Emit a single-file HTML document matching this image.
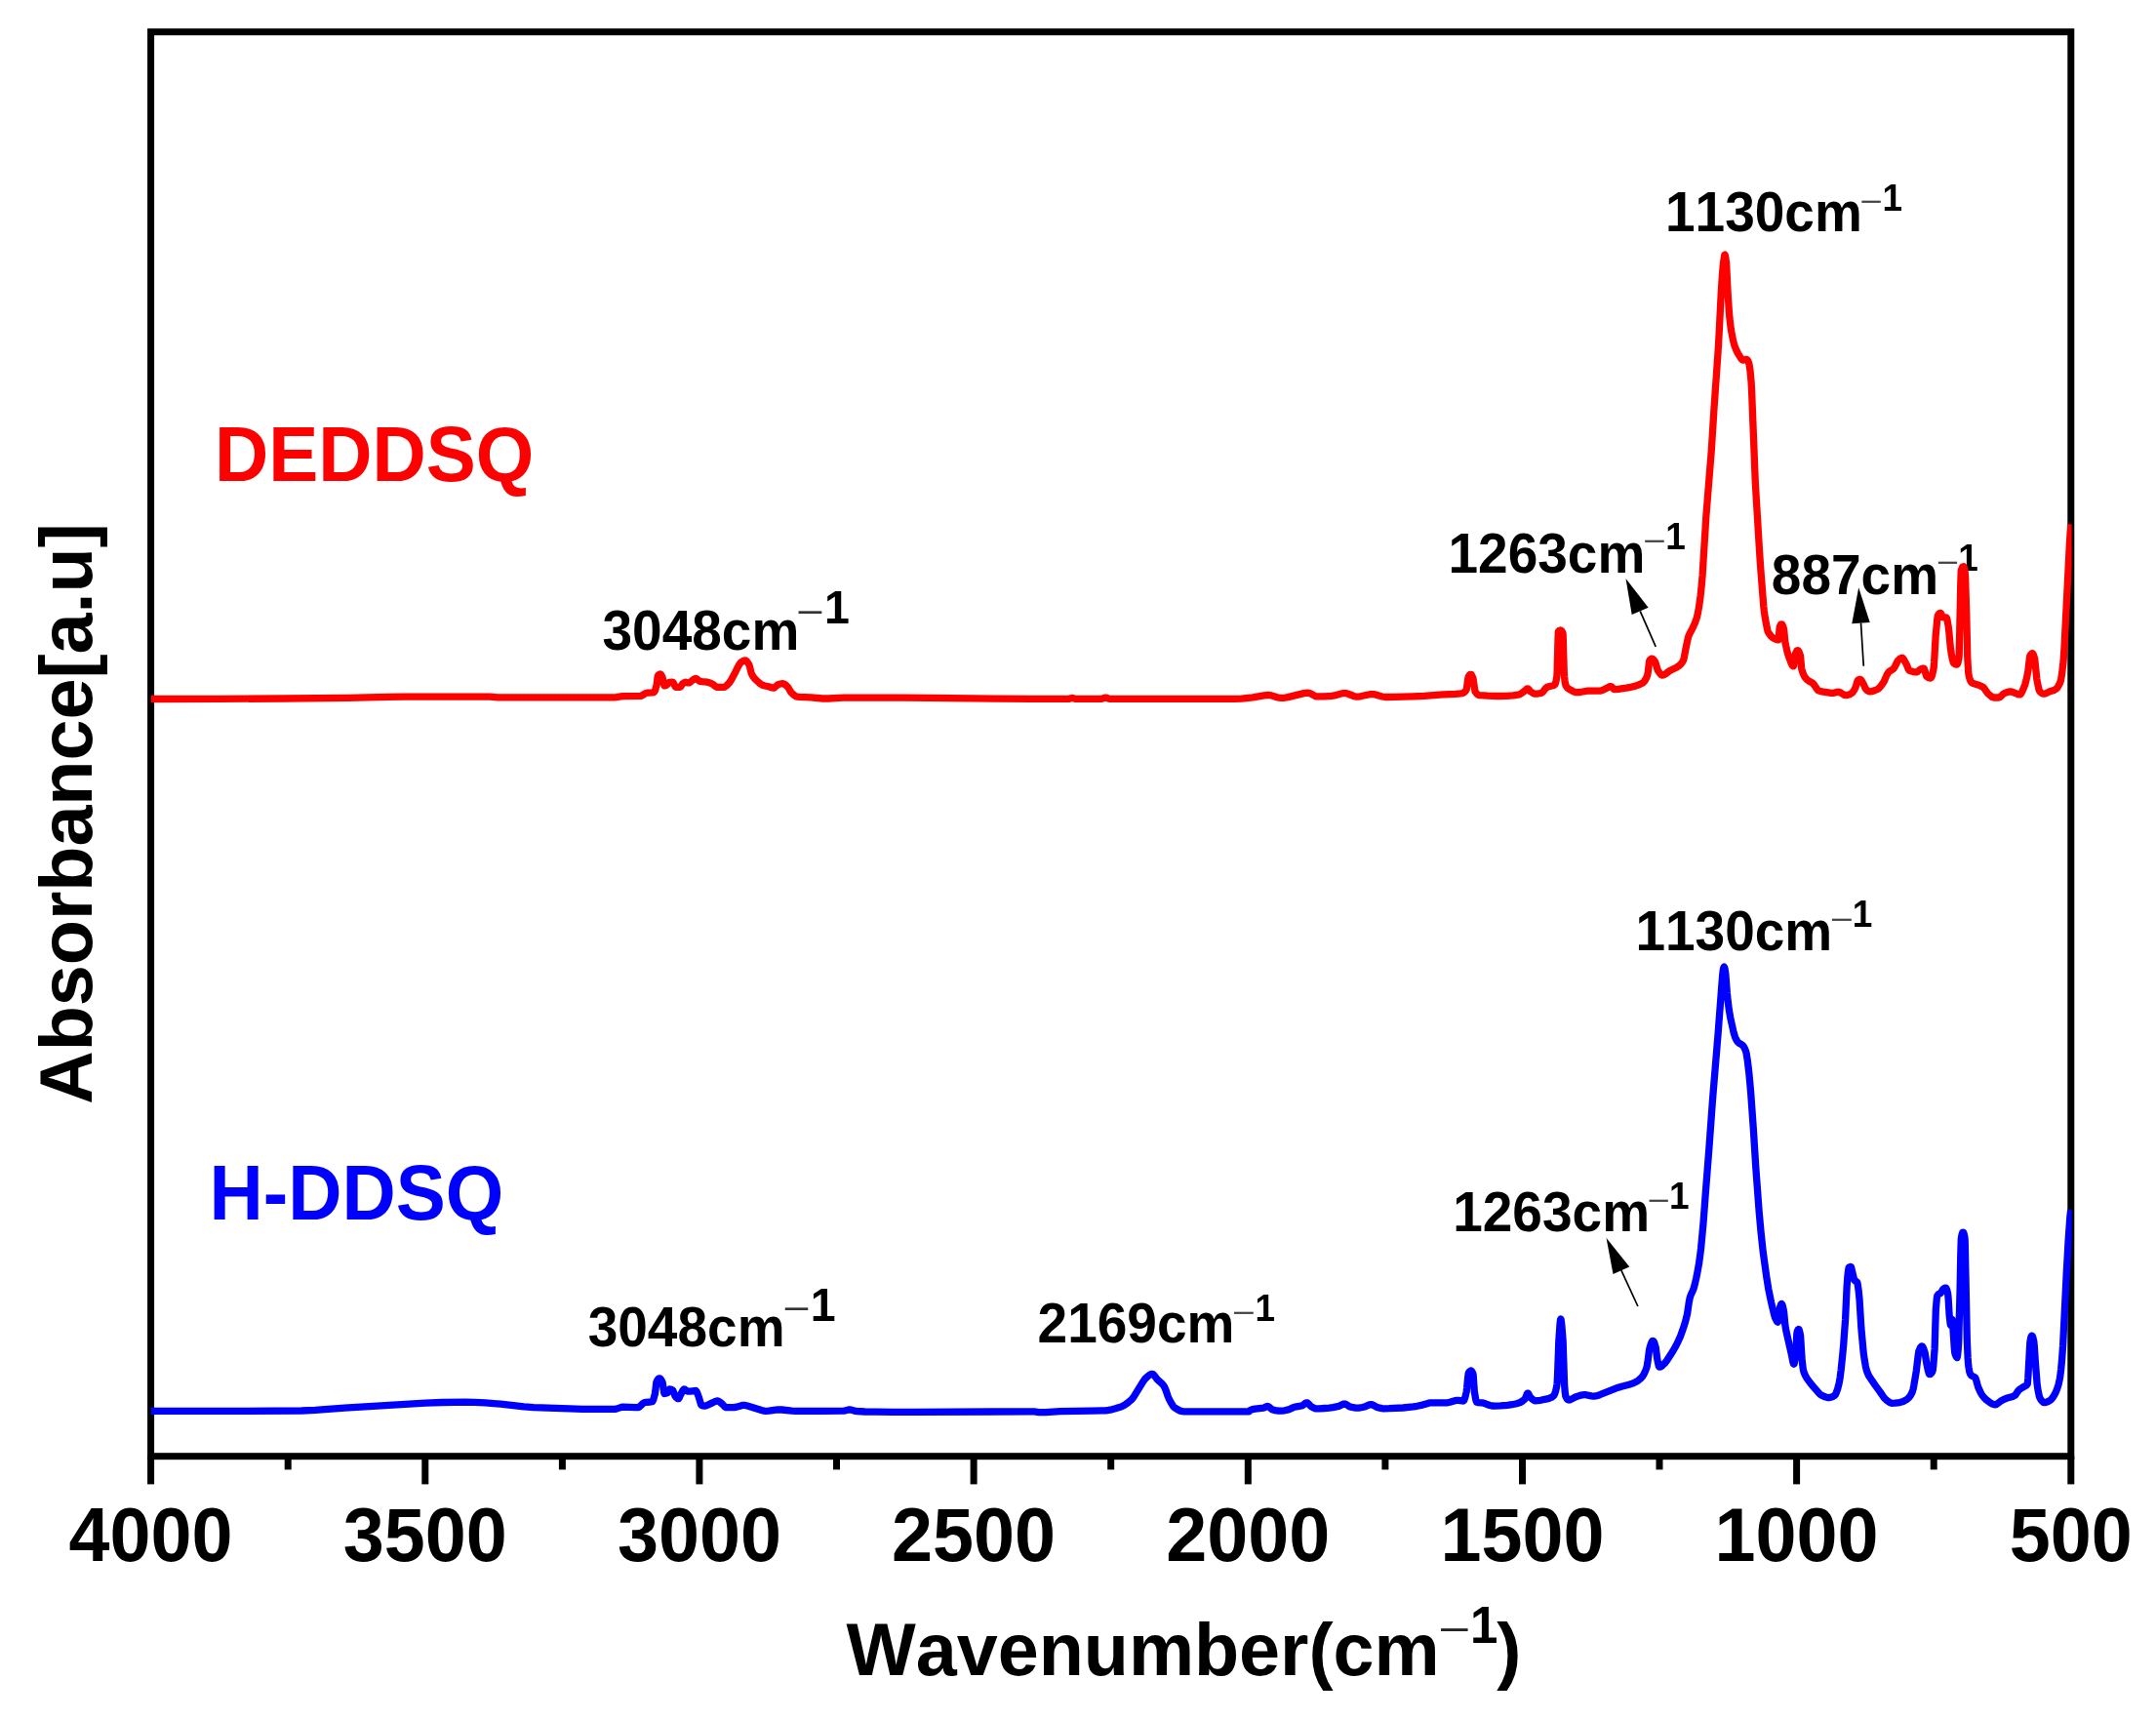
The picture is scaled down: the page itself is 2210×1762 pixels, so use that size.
<!DOCTYPE html>
<html><head><meta charset="utf-8"><title>FTIR</title>
<style>
html,body{margin:0;padding:0;background:#fff;}
body{width:2210px;height:1762px;overflow:hidden;}
svg{display:block;filter:blur(0.55px);}
text{font-family:"Liberation Sans",Arial,Helvetica,sans-serif;font-weight:700;font-kerning:none;font-variant-ligatures:none;}
</style></head><body>
<svg width="2210" height="1762" viewBox="0 0 2210 1762">
<rect width="2210" height="1762" fill="#fff"/>
<rect x="154.6" y="32.7" width="1968.2" height="1460" fill="none" stroke="#000" stroke-width="7"/>
<g stroke="#000" stroke-width="7"><line x1="154.6" y1="1492.7" x2="154.6" y2="1521.4"/><line x1="295.2" y1="1492.7" x2="295.2" y2="1506.4"/><line x1="435.8" y1="1492.7" x2="435.8" y2="1521.4"/><line x1="576.4" y1="1492.7" x2="576.4" y2="1506.4"/><line x1="716.9" y1="1492.7" x2="716.9" y2="1521.4"/><line x1="857.5" y1="1492.7" x2="857.5" y2="1506.4"/><line x1="998.1" y1="1492.7" x2="998.1" y2="1521.4"/><line x1="1138.7" y1="1492.7" x2="1138.7" y2="1506.4"/><line x1="1279.3" y1="1492.7" x2="1279.3" y2="1521.4"/><line x1="1419.9" y1="1492.7" x2="1419.9" y2="1506.4"/><line x1="1560.5" y1="1492.7" x2="1560.5" y2="1521.4"/><line x1="1701.0" y1="1492.7" x2="1701.0" y2="1506.4"/><line x1="1841.6" y1="1492.7" x2="1841.6" y2="1521.4"/><line x1="1982.2" y1="1492.7" x2="1982.2" y2="1506.4"/><line x1="2122.8" y1="1492.7" x2="2122.8" y2="1521.4"/></g>
<g font-size="75.5" fill="#000"><text transform="translate(154.6 1599.7) scale(1 1.04)" text-anchor="middle">4000</text><text transform="translate(435.8 1599.7) scale(1 1.04)" text-anchor="middle">3500</text><text transform="translate(716.9 1599.7) scale(1 1.04)" text-anchor="middle">3000</text><text transform="translate(998.1 1599.7) scale(1 1.04)" text-anchor="middle">2500</text><text transform="translate(1279.3 1599.7) scale(1 1.04)" text-anchor="middle">2000</text><text transform="translate(1560.5 1599.7) scale(1 1.04)" text-anchor="middle">1500</text><text transform="translate(1841.6 1599.7) scale(1 1.04)" text-anchor="middle">1000</text><text transform="translate(2122.8 1599.7) scale(1 1.04)" text-anchor="middle">500</text></g>
<g font-size="76" fill="#000">
<text transform="translate(867.5 1717.0) scale(1 1.01)" font-size="75.5">Wavenumber(cm</text><text transform="translate(1474.2 1684.3) scale(1.418 1)" font-size="40.0" style="font-weight:400" fill="#222">−</text><text transform="translate(1507.1 1684.2) scale(1 1.04)" font-size="51">1</text><text transform="translate(1534.3 1717.0) scale(1 1.01)" font-size="75.5">)</text>
<text transform="translate(94.0 1131.8) rotate(-90) scale(1 1.01)" font-size="75.5">Absorbance[a.u]</text>
</g>
<text transform="translate(220.0 492.6) scale(1 1.04)" font-size="76.5" fill="#ff0000">DEDDSQ</text>
<text transform="translate(214.5 1249.7) scale(1 1.04)" font-size="76.5" fill="#0000ff">H-DDSQ</text>
<g font-size="55" fill="#000">
<text transform="translate(617.5 666.2) scale(1 1.03)">3048cm</text><text transform="translate(816.0 640.1) scale(1.321 1)" font-size="37.1" style="font-weight:400" fill="#333">−</text><text transform="translate(844.9 639.3) scale(1 1.04)" font-size="46.5">1</text>
<text transform="translate(1484.5 586.8) scale(1 1.03)">1263cm</text><text transform="translate(1683.9 565.1) scale(1.286 1)" font-size="31.4" style="font-weight:400" fill="#444">−</text><text transform="translate(1707.3 562.7) scale(1 1.04)" font-size="37">1</text>
<text transform="translate(1707.0 237.3) scale(1 1.03)">1130cm</text><text transform="translate(1906.3 216.5) scale(1.273 1)" font-size="31.4" style="font-weight:400" fill="#444">−</text><text transform="translate(1929.6 215.5) scale(1 1.04)" font-size="37">1</text>
<text transform="translate(1815.8 608.5) scale(1 1.03)">887cm</text><text transform="translate(1984.8 587.2) scale(1.260 1)" font-size="31.4" style="font-weight:400" fill="#444">−</text><text transform="translate(2007.3 585.0) scale(1 1.04)" font-size="37">1</text>
<text transform="translate(602.7 1380.1) scale(1 1.03)">3048cm</text><text transform="translate(802.2 1354.4) scale(1.305 1)" font-size="37.1" style="font-weight:400" fill="#333">−</text><text transform="translate(830.8 1353.6) scale(1 1.04)" font-size="46.5">1</text>
<text transform="translate(1063.6 1376.3) scale(1 1.03)">2169cm</text><text transform="translate(1262.8 1356.2) scale(1.299 1)" font-size="31.4" style="font-weight:400" fill="#444">−</text><text transform="translate(1286.5 1354.0) scale(1 1.04)" font-size="37">1</text>
<text transform="translate(1489.2 1262.2) scale(1 1.03)">1263cm</text><text transform="translate(1688.5 1241.2) scale(1.260 1)" font-size="31.4" style="font-weight:400" fill="#444">−</text><text transform="translate(1710.9 1238.9) scale(1 1.04)" font-size="37">1</text>
<text transform="translate(1676.4 973.9) scale(1 1.03)">1130cm</text><text transform="translate(1875.8 952.5) scale(1.299 1)" font-size="31.4" style="font-weight:400" fill="#444">−</text><text transform="translate(1898.8 950.2) scale(1 1.04)" font-size="37">1</text>
</g>
<clipPath id="plotclip"><rect x="154.4" y="36" width="1969.2" height="1454"/></clipPath>
<g fill="none" stroke-linejoin="round" stroke-linecap="butt" stroke-width="7.3" clip-path="url(#plotclip)">
<path stroke="#ff0000" d="M154.6 716.5 L224.3 716.4 L291.9 716.0 L356.4 715.3 L397.6 714.4 L415.1 714.2 L502.1 714.2 L510.1 714.8 L629.9 714.9 L631.9 714.7 L636.4 713.9 L638.4 713.7 L656.6 713.4 L657.4 713.2 L658.1 712.9 L660.9 711.1 L662.1 710.5 L663.9 710.2 L669.1 709.8 L670.1 709.6 L670.6 709.2 L671.1 708.4 L671.9 706.6 L673.1 702.3 L674.1 694.0 L674.4 692.8 L674.6 692.3 L675.4 691.6 L676.1 691.1 L676.6 691.0 L677.1 691.2 L677.6 691.7 L678.4 692.9 L679.1 694.5 L680.6 701.8 L680.9 702.6 L681.1 702.9 L681.6 702.9 L682.4 702.6 L684.1 701.5 L685.6 699.7 L686.1 699.3 L689.4 699.2 L689.6 699.3 L690.1 699.8 L692.1 703.6 L692.9 704.4 L696.9 704.4 L697.6 703.9 L699.6 700.9 L701.4 699.7 L702.1 699.3 L702.9 699.2 L705.4 699.9 L706.4 699.9 L707.4 699.3 L709.9 697.2 L712.1 695.8 L713.1 695.5 L713.6 695.6 L714.4 696.0 L716.4 697.8 L717.4 698.4 L719.1 698.7 L725.1 699.2 L726.6 699.6 L728.4 700.2 L730.4 701.2 L733.4 703.5 L734.9 704.3 L735.6 704.4 L741.4 704.4 L742.4 704.3 L743.6 703.6 L744.9 702.6 L747.6 699.8 L748.6 698.4 L749.9 696.3 L753.9 688.7 L756.9 682.6 L758.4 680.2 L759.4 679.1 L761.4 677.7 L762.6 677.1 L763.9 676.9 L764.6 677.1 L765.6 678.0 L767.6 680.8 L768.4 683.0 L770.1 690.0 L770.9 691.7 L772.1 693.7 L773.9 695.9 L777.1 699.0 L779.4 700.9 L781.1 702.0 L783.1 702.7 L787.9 703.8 L791.4 705.0 L792.9 705.2 L793.4 705.1 L794.1 704.7 L796.9 702.1 L797.9 701.5 L800.9 700.8 L802.4 700.7 L803.1 700.8 L803.9 701.1 L804.9 701.8 L807.4 704.1 L808.4 705.5 L810.4 709.0 L811.4 710.3 L814.1 712.6 L815.4 713.4 L816.4 713.9 L817.4 714.1 L819.6 714.3 L831.1 714.9 L843.4 716.0 L849.1 716.0 L860.1 715.3 L864.4 715.2 L924.1 715.2 L952.1 715.3 L1022.9 716.2 L1055.6 716.4 L1095.1 716.4 L1096.1 716.3 L1098.1 715.6 L1099.1 715.5 L1100.1 715.7 L1102.1 716.3 L1102.8 716.4 L1128.1 716.4 L1129.1 716.3 L1131.8 715.3 L1133.1 715.1 L1134.1 715.2 L1136.6 716.2 L1137.8 716.4 L1265.3 716.4 L1272.6 716.1 L1284.3 714.8 L1295.6 712.9 L1300.1 712.5 L1301.8 712.6 L1303.6 713.0 L1309.1 714.7 L1311.1 715.2 L1312.8 715.4 L1315.1 715.4 L1317.3 715.1 L1320.1 714.6 L1336.6 710.6 L1338.6 710.3 L1340.3 710.2 L1341.3 710.3 L1342.6 710.6 L1347.8 713.3 L1349.1 713.8 L1350.1 713.9 L1357.3 713.8 L1364.8 713.4 L1367.8 712.9 L1374.8 711.0 L1376.8 710.7 L1378.6 710.6 L1379.8 710.7 L1381.3 711.0 L1387.8 713.5 L1389.3 713.9 L1390.8 714.1 L1394.3 713.8 L1402.8 712.0 L1404.8 711.7 L1406.6 711.6 L1408.1 711.6 L1409.8 711.9 L1416.8 714.0 L1419.8 714.5 L1429.3 714.4 L1447.8 713.8 L1459.8 713.3 L1479.3 711.9 L1492.1 711.4 L1497.1 710.9 L1499.3 710.5 L1500.3 710.0 L1501.3 709.3 L1502.3 708.2 L1503.1 707.1 L1503.6 704.5 L1504.6 696.7 L1505.1 694.0 L1505.6 693.0 L1506.3 692.0 L1507.1 691.4 L1507.6 691.3 L1508.1 691.5 L1508.8 692.7 L1509.8 695.0 L1510.1 695.9 L1511.6 706.5 L1512.1 708.8 L1513.6 710.9 L1515.1 712.2 L1515.8 712.5 L1516.6 712.7 L1524.8 713.2 L1535.6 713.5 L1544.3 713.4 L1551.1 712.8 L1557.3 711.8 L1558.3 711.4 L1559.6 710.6 L1563.1 708.0 L1564.8 706.3 L1565.3 706.0 L1565.8 705.8 L1566.3 706.0 L1566.8 706.4 L1568.8 708.8 L1571.1 710.3 L1572.6 711.1 L1573.6 711.2 L1575.3 711.1 L1579.6 710.5 L1580.3 710.2 L1581.3 709.4 L1584.3 705.6 L1585.6 704.5 L1587.3 703.8 L1591.8 702.8 L1593.1 702.3 L1593.8 701.7 L1594.3 700.7 L1594.8 699.1 L1595.8 693.7 L1596.1 689.5 L1597.1 652.0 L1597.3 647.7 L1597.6 647.2 L1598.3 646.5 L1598.8 646.2 L1599.6 646.0 L1600.3 646.2 L1601.1 647.1 L1601.8 648.6 L1602.1 649.7 L1602.3 654.7 L1603.3 690.3 L1603.6 694.1 L1604.1 698.3 L1604.6 701.2 L1605.1 702.8 L1606.1 704.4 L1607.3 705.6 L1610.6 707.6 L1613.1 708.9 L1615.1 709.5 L1617.1 709.7 L1619.6 709.5 L1625.1 708.5 L1627.6 708.2 L1639.6 708.1 L1640.6 708.1 L1642.6 707.4 L1649.6 703.9 L1650.8 703.6 L1651.3 703.6 L1651.8 703.8 L1654.3 706.4 L1654.8 706.6 L1655.3 706.6 L1658.8 706.3 L1667.1 705.2 L1671.8 704.3 L1676.6 703.1 L1680.3 701.8 L1683.3 700.3 L1684.6 699.4 L1685.3 698.6 L1686.8 696.4 L1687.8 694.4 L1688.8 691.7 L1689.3 688.8 L1690.3 680.2 L1690.8 677.2 L1691.3 676.3 L1692.6 675.3 L1693.3 675.1 L1694.1 675.4 L1695.1 676.3 L1696.1 677.7 L1696.6 678.5 L1697.1 679.7 L1698.6 685.0 L1699.3 687.1 L1700.6 689.0 L1701.8 690.6 L1702.8 691.6 L1703.8 692.0 L1704.8 691.9 L1706.1 691.5 L1707.3 690.7 L1711.6 687.5 L1718.3 684.3 L1721.3 682.2 L1723.1 680.6 L1724.6 678.5 L1725.8 676.1 L1726.3 674.0 L1727.6 667.0 L1729.6 657.1 L1730.8 652.2 L1732.1 649.3 L1734.8 644.3 L1737.3 638.7 L1739.1 633.8 L1740.3 628.9 L1741.6 621.7 L1743.1 610.7 L1744.1 601.2 L1745.1 589.7 L1748.8 529.6 L1754.3 461.5 L1757.1 416.9 L1761.1 360.0 L1762.3 339.3 L1764.1 303.2 L1765.3 283.4 L1766.1 273.7 L1766.6 269.1 L1767.6 262.3 L1767.8 261.4 L1768.1 261.2 L1768.3 261.6 L1768.8 263.9 L1769.6 269.8 L1771.1 300.1 L1772.1 315.3 L1772.8 324.7 L1773.6 331.7 L1774.3 337.2 L1775.1 341.7 L1776.3 347.9 L1777.8 353.8 L1779.6 358.5 L1781.6 362.5 L1784.8 367.6 L1785.6 368.5 L1786.3 369.1 L1787.3 369.0 L1789.3 368.5 L1790.3 368.4 L1790.8 368.6 L1791.6 369.6 L1792.6 372.0 L1793.1 373.9 L1794.1 380.8 L1795.1 391.6 L1795.6 401.0 L1799.3 494.9 L1803.6 565.9 L1804.8 583.6 L1807.8 621.6 L1808.3 626.2 L1809.3 633.3 L1811.1 642.7 L1811.8 646.1 L1812.3 647.6 L1813.6 649.8 L1815.1 651.8 L1816.6 653.2 L1818.1 654.2 L1820.8 655.5 L1822.8 655.9 L1823.1 655.8 L1823.3 653.9 L1824.1 643.8 L1824.3 642.6 L1825.1 640.8 L1825.6 640.0 L1826.1 639.8 L1826.6 640.0 L1827.1 640.8 L1827.6 641.9 L1828.3 644.2 L1828.6 645.4 L1829.8 657.6 L1830.6 661.8 L1831.6 666.4 L1833.3 672.4 L1835.6 678.5 L1836.8 681.3 L1837.3 682.1 L1837.8 682.6 L1838.3 682.8 L1838.6 682.4 L1840.1 671.0 L1840.8 669.0 L1841.8 667.2 L1842.6 666.7 L1842.8 666.7 L1843.3 667.0 L1843.8 667.7 L1844.3 668.7 L1845.3 671.4 L1845.6 673.1 L1846.6 684.4 L1846.8 685.9 L1847.8 689.2 L1849.1 692.3 L1850.6 694.8 L1852.6 696.9 L1854.1 698.0 L1857.3 699.7 L1858.8 700.9 L1859.8 702.2 L1862.6 706.4 L1863.8 707.7 L1865.1 708.3 L1867.6 708.9 L1877.1 710.4 L1879.1 710.4 L1883.1 709.3 L1884.8 709.2 L1886.3 709.7 L1889.8 712.0 L1891.1 712.5 L1892.3 712.7 L1894.1 712.4 L1895.6 711.9 L1897.3 711.0 L1898.6 710.2 L1899.3 709.4 L1900.6 707.3 L1902.1 704.3 L1904.1 697.8 L1904.3 697.4 L1905.1 696.9 L1905.8 696.5 L1906.6 696.3 L1907.3 696.6 L1908.1 697.5 L1910.1 701.0 L1912.3 705.9 L1912.8 706.6 L1914.3 707.9 L1915.6 708.6 L1916.8 708.9 L1919.1 708.6 L1921.6 707.8 L1925.1 706.2 L1926.1 705.3 L1927.3 704.0 L1929.3 701.4 L1931.1 698.7 L1934.3 691.4 L1935.6 689.3 L1936.8 688.1 L1940.1 686.1 L1941.3 685.0 L1942.3 683.4 L1944.6 678.6 L1945.6 676.9 L1947.8 675.0 L1948.8 674.5 L1949.6 674.3 L1950.1 674.4 L1950.6 674.8 L1951.6 676.2 L1954.1 680.7 L1956.3 686.1 L1956.8 686.9 L1957.3 687.4 L1959.3 688.1 L1961.1 688.6 L1963.1 688.9 L1964.6 688.9 L1965.6 688.4 L1967.8 686.5 L1968.6 686.0 L1970.8 685.2 L1972.1 685.1 L1972.3 685.4 L1972.8 686.6 L1974.1 691.2 L1974.8 693.3 L1975.8 694.0 L1977.1 694.7 L1978.1 695.0 L1979.1 695.0 L1979.3 694.8 L1979.8 694.0 L1980.6 691.9 L1981.3 688.9 L1982.1 685.0 L1982.6 679.0 L1984.1 652.7 L1985.8 634.1 L1986.3 631.2 L1986.6 630.5 L1987.6 629.0 L1988.1 628.6 L1988.6 628.3 L1989.1 628.3 L1989.6 628.9 L1991.1 632.0 L1991.6 632.7 L1992.1 632.9 L1995.1 632.9 L1995.6 633.8 L1996.3 637.0 L1997.3 643.0 L1997.8 647.2 L1999.3 663.8 L2000.3 670.4 L2001.3 675.8 L2002.1 678.6 L2002.6 679.6 L2003.6 680.4 L2004.6 681.0 L2005.6 681.2 L2006.1 681.1 L2006.6 680.3 L2007.1 678.8 L2008.1 673.3 L2008.3 667.0 L2009.8 597.1 L2010.1 588.8 L2010.3 584.6 L2011.3 581.9 L2011.8 581.1 L2012.6 580.7 L2012.8 580.7 L2013.1 581.1 L2013.8 583.9 L2014.3 587.3 L2014.6 591.4 L2015.8 631.1 L2016.6 666.4 L2016.8 674.1 L2017.6 687.8 L2017.8 690.6 L2018.6 694.3 L2019.6 697.4 L2020.6 699.2 L2021.3 699.8 L2022.6 700.5 L2026.6 701.7 L2029.8 702.9 L2031.3 703.6 L2032.6 704.2 L2033.8 705.4 L2036.6 709.5 L2037.8 711.0 L2041.1 713.8 L2042.3 714.5 L2043.3 714.9 L2044.3 715.0 L2048.8 715.0 L2049.3 714.9 L2050.6 714.2 L2053.3 711.5 L2054.6 710.6 L2057.8 709.4 L2060.1 708.9 L2061.3 708.9 L2062.3 709.1 L2068.6 711.6 L2069.8 711.9 L2070.6 711.9 L2071.1 711.6 L2071.6 711.0 L2072.8 708.9 L2074.8 704.3 L2075.8 701.5 L2077.3 695.6 L2078.8 688.1 L2080.3 675.3 L2080.8 672.5 L2081.3 671.5 L2082.1 670.4 L2082.8 669.8 L2083.3 669.7 L2083.8 670.1 L2084.6 671.7 L2085.6 675.0 L2085.8 676.3 L2087.8 696.1 L2089.6 705.1 L2090.3 707.7 L2090.8 708.7 L2091.8 709.7 L2093.1 710.7 L2094.3 711.1 L2095.3 711.2 L2097.1 710.7 L2101.1 708.8 L2105.3 707.5 L2107.3 706.4 L2108.6 705.3 L2109.8 703.5 L2111.1 701.1 L2112.1 698.6 L2112.6 696.5 L2113.3 692.4 L2114.8 680.7 L2115.3 674.6 L2116.1 661.9 L2121.3 558.7 L2122.1 546.3 L2122.9 537.4"/>
<path stroke="#0000ff" d="M154.6 1446.4 L253.6 1446.3 L309.1 1446.0 L323.1 1445.3 L353.3 1443.1 L436.1 1438.2 L452.8 1437.5 L477.6 1437.2 L486.8 1437.3 L497.3 1437.9 L513.1 1439.2 L537.1 1441.9 L547.1 1442.6 L583.6 1443.8 L597.3 1444.4 L630.1 1444.4 L631.8 1444.1 L636.3 1442.6 L638.3 1442.2 L651.3 1442.6 L654.1 1442.6 L654.8 1442.3 L655.6 1441.8 L659.1 1438.5 L660.6 1437.5 L662.1 1437.3 L666.6 1437.0 L668.6 1436.6 L669.1 1436.1 L669.8 1434.5 L671.3 1429.1 L671.8 1425.9 L672.8 1417.0 L673.6 1415.2 L674.3 1414.0 L675.1 1413.2 L675.8 1412.9 L676.6 1413.1 L677.3 1413.8 L678.3 1415.4 L679.1 1417.1 L680.6 1426.8 L680.8 1427.9 L681.1 1428.5 L682.8 1428.2 L684.3 1427.6 L685.8 1424.5 L686.3 1424.0 L687.3 1424.1 L688.6 1424.5 L689.3 1424.8 L689.8 1425.3 L692.1 1431.1 L693.6 1432.8 L694.8 1433.6 L695.3 1433.7 L695.6 1433.6 L696.1 1433.0 L697.8 1429.3 L699.8 1425.5 L700.6 1424.4 L701.1 1424.0 L702.1 1424.2 L704.6 1425.9 L705.6 1426.2 L707.6 1426.1 L711.8 1425.6 L713.3 1425.5 L713.8 1426.0 L714.3 1426.9 L716.3 1432.0 L718.1 1438.3 L718.6 1439.7 L719.1 1440.4 L720.3 1440.9 L722.1 1441.1 L723.8 1440.8 L725.3 1440.2 L728.6 1438.6 L733.1 1436.5 L734.3 1436.1 L735.6 1435.9 L736.6 1436.2 L737.6 1436.9 L740.6 1439.4 L742.8 1441.8 L743.6 1442.4 L744.1 1442.6 L752.8 1442.6 L754.8 1442.2 L760.1 1440.7 L761.6 1440.4 L763.1 1440.4 L766.1 1441.0 L780.6 1445.5 L783.1 1446.1 L785.1 1446.3 L788.3 1446.2 L795.1 1445.1 L797.8 1444.9 L801.6 1445.0 L811.6 1446.1 L816.1 1446.4 L843.3 1446.3 L865.1 1446.1 L866.6 1445.8 L869.8 1445.0 L871.1 1444.9 L872.6 1445.1 L876.3 1446.3 L878.6 1446.5 L886.6 1447.0 L898.3 1447.2 L915.1 1447.4 L936.6 1447.4 L1057.8 1446.8 L1060.1 1446.9 L1065.1 1447.6 L1067.1 1447.7 L1071.8 1447.6 L1086.8 1446.7 L1118.6 1446.2 L1129.6 1445.9 L1133.3 1445.8 L1136.3 1445.4 L1139.6 1444.8 L1143.3 1443.8 L1147.3 1442.6 L1150.1 1441.6 L1152.6 1440.3 L1155.1 1438.6 L1159.1 1435.3 L1160.3 1434.1 L1161.3 1432.9 L1163.1 1430.2 L1171.6 1416.3 L1173.6 1413.5 L1176.1 1411.1 L1178.1 1409.5 L1179.6 1408.7 L1181.1 1408.4 L1181.8 1408.6 L1182.8 1409.4 L1186.3 1414.0 L1191.1 1418.3 L1192.3 1419.7 L1193.3 1421.1 L1194.6 1423.8 L1197.3 1431.5 L1198.3 1434.0 L1201.1 1439.1 L1202.8 1441.7 L1204.1 1442.9 L1207.3 1444.9 L1209.8 1446.1 L1212.1 1446.7 L1213.6 1446.8 L1280.3 1446.8 L1280.6 1446.2 L1281.1 1445.8 L1282.3 1445.2 L1283.8 1444.6 L1286.6 1444.1 L1295.1 1443.2 L1296.1 1442.8 L1298.1 1441.7 L1299.1 1441.4 L1299.8 1441.5 L1300.6 1441.9 L1303.3 1444.3 L1304.6 1445.0 L1307.1 1445.6 L1309.3 1446.0 L1311.3 1446.2 L1313.3 1446.2 L1316.6 1445.8 L1320.8 1444.9 L1322.3 1444.3 L1325.8 1442.6 L1327.3 1442.1 L1333.1 1441.2 L1334.8 1440.8 L1335.8 1440.2 L1338.3 1438.2 L1339.1 1437.9 L1339.6 1437.8 L1340.1 1437.9 L1340.8 1438.4 L1343.3 1441.1 L1344.1 1441.8 L1346.8 1443.2 L1347.8 1443.6 L1348.8 1443.8 L1352.6 1443.8 L1357.6 1443.5 L1362.6 1443.1 L1366.3 1442.6 L1372.3 1441.4 L1373.6 1440.8 L1376.3 1439.4 L1377.3 1439.1 L1378.1 1439.0 L1378.8 1439.1 L1379.8 1439.5 L1382.8 1441.4 L1383.8 1441.9 L1387.1 1442.7 L1389.8 1443.1 L1392.8 1443.1 L1396.6 1442.5 L1399.6 1441.7 L1403.6 1439.9 L1405.3 1439.6 L1406.1 1439.7 L1407.1 1440.0 L1411.3 1442.4 L1414.3 1443.2 L1416.6 1443.6 L1418.3 1443.8 L1423.8 1443.7 L1438.1 1443.0 L1448.8 1441.9 L1452.6 1441.3 L1458.1 1440.1 L1463.8 1438.4 L1466.3 1437.8 L1483.8 1437.8 L1486.1 1437.3 L1491.3 1435.7 L1493.6 1435.4 L1495.1 1435.4 L1498.6 1435.9 L1500.1 1436.0 L1500.6 1435.5 L1501.3 1433.8 L1502.1 1431.2 L1503.1 1427.0 L1503.6 1423.1 L1504.6 1412.2 L1505.1 1408.2 L1505.3 1407.3 L1506.1 1406.2 L1506.8 1405.4 L1507.6 1405.0 L1508.1 1405.2 L1508.8 1405.9 L1509.8 1407.9 L1510.1 1408.8 L1511.3 1426.1 L1512.6 1433.9 L1513.1 1436.0 L1513.6 1437.1 L1513.8 1437.3 L1515.1 1437.6 L1519.1 1437.9 L1520.8 1438.2 L1522.6 1438.8 L1527.1 1440.5 L1529.3 1441.0 L1532.3 1441.1 L1538.1 1440.9 L1545.3 1440.3 L1549.8 1439.7 L1554.6 1438.7 L1556.8 1438.0 L1558.3 1437.5 L1560.8 1436.0 L1563.1 1434.0 L1563.6 1433.1 L1565.1 1429.2 L1565.6 1428.3 L1565.8 1428.1 L1566.3 1428.2 L1566.8 1428.8 L1568.3 1431.6 L1569.1 1432.7 L1571.8 1435.1 L1572.8 1435.6 L1573.6 1435.8 L1576.1 1435.6 L1579.1 1435.3 L1587.1 1433.6 L1588.8 1433.0 L1590.6 1432.2 L1592.1 1431.1 L1592.8 1430.3 L1593.8 1428.3 L1594.6 1425.9 L1595.6 1421.5 L1596.1 1418.3 L1596.6 1408.5 L1597.8 1375.1 L1599.1 1356.3 L1599.6 1352.4 L1599.8 1352.1 L1600.1 1352.6 L1600.3 1353.8 L1600.8 1357.7 L1602.1 1373.7 L1603.6 1419.3 L1604.3 1427.5 L1604.8 1430.9 L1605.1 1431.8 L1605.8 1433.1 L1606.8 1434.3 L1607.6 1434.8 L1608.3 1435.0 L1609.3 1434.8 L1610.3 1434.4 L1614.8 1432.0 L1619.6 1430.4 L1622.3 1429.8 L1624.1 1429.6 L1625.6 1429.7 L1631.1 1430.9 L1633.1 1431.1 L1635.1 1431.0 L1637.3 1430.6 L1639.8 1429.7 L1658.8 1422.2 L1662.1 1421.2 L1669.8 1419.3 L1673.3 1418.1 L1675.8 1417.0 L1678.1 1415.8 L1680.1 1414.3 L1682.1 1412.6 L1683.8 1410.6 L1685.3 1408.1 L1686.8 1404.8 L1688.1 1401.1 L1688.8 1397.2 L1690.3 1385.6 L1690.8 1382.5 L1691.6 1379.7 L1692.6 1376.7 L1693.3 1375.1 L1693.8 1374.5 L1694.1 1374.3 L1694.3 1374.3 L1694.8 1374.7 L1695.6 1376.0 L1696.3 1378.0 L1697.3 1381.5 L1698.6 1392.1 L1699.6 1397.2 L1700.3 1400.0 L1700.8 1401.0 L1701.1 1401.2 L1701.6 1401.1 L1702.3 1400.9 L1703.6 1400.0 L1706.6 1397.2 L1708.8 1394.3 L1714.6 1385.2 L1717.8 1379.6 L1720.3 1374.6 L1722.6 1369.4 L1724.8 1363.3 L1727.1 1356.4 L1728.6 1350.8 L1729.6 1346.4 L1731.3 1334.8 L1732.1 1330.7 L1733.1 1327.5 L1735.3 1322.7 L1736.1 1320.7 L1737.3 1316.3 L1738.8 1309.8 L1740.3 1302.1 L1741.6 1294.7 L1742.8 1285.8 L1743.6 1279.4 L1746.1 1252.3 L1748.1 1225.3 L1751.8 1177.9 L1755.6 1126.0 L1761.1 1059.5 L1765.6 1000.2 L1766.3 994.1 L1766.8 992.0 L1767.1 991.4 L1767.3 991.2 L1767.6 991.5 L1768.1 993.3 L1768.8 997.7 L1770.3 1017.3 L1771.3 1027.0 L1772.3 1034.9 L1773.8 1043.5 L1777.3 1059.2 L1778.6 1063.2 L1779.8 1065.8 L1780.8 1067.4 L1782.3 1069.0 L1785.1 1070.6 L1786.3 1071.5 L1787.3 1072.7 L1788.3 1074.5 L1789.3 1076.9 L1790.1 1079.5 L1791.3 1087.2 L1792.8 1099.7 L1794.6 1119.3 L1797.3 1157.0 L1799.8 1197.1 L1803.3 1243.8 L1805.1 1263.4 L1807.3 1283.8 L1810.8 1309.0 L1812.8 1321.4 L1815.6 1335.0 L1818.1 1345.5 L1819.3 1350.0 L1820.1 1351.9 L1821.1 1353.8 L1821.8 1354.8 L1822.3 1355.1 L1822.6 1354.7 L1822.8 1353.0 L1823.8 1343.4 L1824.8 1339.2 L1825.6 1337.0 L1826.1 1336.5 L1826.3 1336.5 L1826.6 1336.8 L1827.1 1338.0 L1827.8 1340.7 L1828.6 1344.7 L1829.8 1357.9 L1830.8 1363.9 L1836.6 1389.5 L1837.8 1395.8 L1838.3 1397.6 L1838.6 1398.1 L1838.8 1398.2 L1839.1 1397.9 L1839.3 1397.0 L1839.8 1394.1 L1840.3 1390.0 L1841.1 1382.6 L1841.8 1367.7 L1842.1 1365.4 L1842.6 1363.9 L1843.1 1362.9 L1843.6 1362.5 L1843.8 1362.6 L1844.1 1362.9 L1844.8 1365.2 L1845.6 1369.2 L1847.1 1393.5 L1848.1 1402.2 L1848.6 1404.7 L1849.3 1407.2 L1850.3 1409.6 L1851.8 1412.3 L1854.8 1416.5 L1858.1 1420.6 L1863.8 1427.2 L1865.3 1428.8 L1866.6 1429.8 L1867.6 1430.4 L1870.8 1431.8 L1872.6 1432.3 L1874.3 1432.6 L1875.6 1432.5 L1877.1 1432.2 L1878.6 1431.6 L1880.1 1430.7 L1880.8 1430.2 L1881.3 1429.6 L1882.3 1427.5 L1883.6 1423.8 L1885.1 1418.1 L1886.1 1412.3 L1887.1 1404.6 L1888.8 1388.3 L1889.8 1377.1 L1891.6 1352.2 L1893.1 1319.3 L1893.8 1309.2 L1894.6 1302.2 L1895.1 1299.5 L1895.3 1299.1 L1896.6 1298.5 L1897.1 1298.4 L1897.3 1298.5 L1897.8 1299.7 L1900.6 1311.8 L1900.8 1312.2 L1901.3 1312.7 L1902.8 1313.5 L1903.6 1314.2 L1903.8 1314.7 L1904.3 1316.9 L1905.1 1322.5 L1906.1 1332.4 L1907.8 1360.6 L1909.6 1380.6 L1910.3 1387.5 L1911.3 1394.5 L1912.3 1400.2 L1913.3 1404.6 L1914.8 1408.5 L1915.8 1410.5 L1917.1 1412.5 L1921.8 1419.4 L1927.1 1426.6 L1930.6 1431.8 L1932.1 1433.6 L1933.8 1435.2 L1936.8 1437.4 L1938.1 1438.0 L1939.1 1438.3 L1942.6 1438.2 L1947.3 1437.6 L1949.1 1437.1 L1950.8 1436.5 L1954.3 1434.6 L1956.3 1433.0 L1958.3 1430.4 L1959.6 1428.2 L1960.3 1426.5 L1961.1 1423.8 L1961.8 1420.2 L1964.3 1405.3 L1966.1 1390.3 L1966.8 1385.3 L1967.1 1384.4 L1968.1 1382.1 L1968.8 1380.8 L1969.6 1380.0 L1970.1 1379.9 L1970.3 1380.0 L1971.1 1380.9 L1972.1 1383.3 L1973.1 1386.4 L1974.8 1397.5 L1976.3 1404.6 L1977.3 1408.1 L1977.8 1408.7 L1978.3 1408.7 L1978.8 1408.5 L1979.8 1407.5 L1980.8 1405.9 L1981.3 1403.8 L1981.8 1399.6 L1983.1 1382.7 L1984.3 1342.8 L1985.3 1330.8 L1985.6 1329.1 L1985.8 1328.1 L1986.1 1327.7 L1987.1 1326.6 L1988.8 1325.7 L1989.6 1325.0 L1991.6 1321.6 L1992.3 1320.8 L1993.8 1320.2 L1994.6 1320.1 L1994.8 1320.2 L1995.6 1321.8 L1996.6 1325.9 L1996.8 1327.5 L1997.1 1330.7 L1998.1 1347.6 L1999.1 1356.5 L1999.3 1357.8 L1999.6 1358.3 L1999.8 1357.8 L2000.6 1353.8 L2000.8 1352.8 L2001.1 1352.6 L2001.3 1353.9 L2001.6 1356.6 L2003.3 1381.9 L2003.8 1386.8 L2004.3 1388.5 L2005.1 1390.5 L2005.6 1391.2 L2006.1 1391.5 L2006.3 1390.9 L2006.6 1389.5 L2007.1 1384.4 L2007.6 1377.5 L2007.8 1371.5 L2009.1 1321.6 L2009.8 1284.9 L2010.3 1269.5 L2010.8 1266.6 L2011.3 1264.6 L2011.8 1263.4 L2012.1 1263.1 L2012.3 1263.1 L2012.6 1263.3 L2013.1 1264.4 L2013.8 1267.8 L2014.1 1269.5 L2014.3 1274.9 L2016.3 1372.6 L2017.1 1391.5 L2017.6 1398.4 L2018.1 1402.1 L2018.8 1406.1 L2019.6 1408.4 L2020.1 1409.2 L2020.8 1409.9 L2023.8 1411.4 L2024.6 1412.1 L2025.1 1412.8 L2025.8 1415.0 L2027.1 1419.8 L2027.8 1422.1 L2030.1 1427.1 L2031.1 1429.0 L2032.1 1430.5 L2034.1 1432.9 L2036.3 1435.1 L2040.1 1437.8 L2042.3 1439.1 L2044.3 1439.7 L2045.3 1439.8 L2046.1 1439.6 L2047.3 1438.8 L2050.6 1436.3 L2054.8 1434.1 L2057.6 1432.9 L2063.1 1431.4 L2065.3 1430.3 L2066.3 1429.3 L2068.6 1425.8 L2069.6 1424.6 L2071.1 1423.5 L2074.1 1421.6 L2076.8 1420.3 L2077.8 1419.4 L2078.3 1418.4 L2078.8 1412.8 L2080.8 1376.5 L2081.1 1374.2 L2081.8 1370.9 L2082.3 1369.6 L2082.6 1369.2 L2082.8 1369.1 L2083.3 1369.6 L2083.8 1370.8 L2084.8 1374.9 L2085.3 1380.1 L2086.3 1395.4 L2088.1 1418.5 L2089.1 1425.3 L2090.3 1431.1 L2091.1 1433.1 L2092.3 1435.1 L2093.6 1436.6 L2094.8 1437.5 L2095.3 1437.6 L2096.1 1437.6 L2097.8 1437.2 L2099.8 1436.3 L2101.8 1435.1 L2103.6 1433.3 L2105.3 1430.7 L2107.3 1427.0 L2108.8 1423.2 L2110.1 1419.0 L2111.3 1413.4 L2111.8 1410.4 L2112.6 1404.1 L2113.6 1393.1 L2114.6 1379.4 L2118.1 1307.4 L2120.1 1271.8 L2121.8 1247.7 L2122.3 1243.3 L2122.9 1240.0"/>
</g>
<line x1="1697.2" y1="662.9" x2="1681.2" y2="626.4" stroke="#000" stroke-width="1.7"/><polygon points="1666.5,593.0 1689.6,622.7 1672.7,630.1" fill="#000"/>
<line x1="1678.9" y1="1339.0" x2="1661.9" y2="1302.2" stroke="#000" stroke-width="1.7"/><polygon points="1646.6,1269.1 1670.3,1298.4 1653.5,1306.1" fill="#000"/>
<line x1="1910.3" y1="682.8" x2="1907.5" y2="638.6" stroke="#000" stroke-width="1.7"/><polygon points="1905.2,602.2 1916.7,638.0 1898.3,639.2" fill="#000"/>
</svg>
</body></html>
